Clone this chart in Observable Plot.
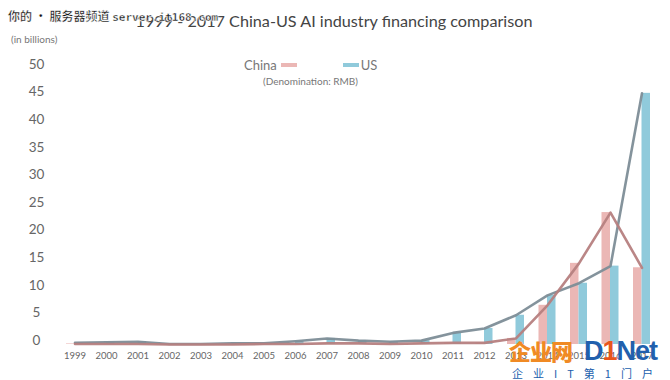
<!DOCTYPE html>
<html><head><meta charset="utf-8">
<script src="https://cdn.jsdelivr.net/npm/d3@7"></script>
<script src="https://cdn.jsdelivr.net/npm/@observablehq/plot@0.6"></script>
<style>
body{margin:0;background:#fff;}
#wrap{position:relative;width:670px;height:380px;overflow:hidden;font-family:Lato,"Open Sans",sans-serif;background:#fff;}
#chart{position:absolute;left:0;top:0;}
.abs{position:absolute;white-space:nowrap;line-height:1;}
</style></head><body>
<div id="wrap">
<div id="chart"></div>
<div class="abs" id="title" style="left:0;width:668px;text-align:center;top:13px;font-size:16.2px;color:#444;">1999 - 2017 China-US AI industry financing comparison</div>
<div class="abs" style="left:11px;top:34px;font-size:10px;color:#777;">(in billions)</div>
<div class="abs" id="legend" style="left:244px;top:59px;font-size:13px;color:#777;"></div>
<div class="abs" style="left:263px;top:76px;font-size:10px;color:#777;">(Denomination: RMB)</div>
<div class="abs" style="left:8px;top:10px;font-size:12px;font-weight:bold;color:#111;font-family:'Noto Sans CJK SC','DejaVu Sans Mono',monospace;-webkit-text-stroke:0.4px #fff;text-shadow:0 0 2px #fff,0 0 2px #fff;">你的 • 服务器频道 <span style="font-family:'DejaVu Sans Mono',monospace;font-size:11px;">server.it168.com</span></div>
<div class="abs" style="left:509px;top:339px;font-size:22px;font-weight:900;color:#f08a24;font-family:'Noto Sans CJK SC',sans-serif;letter-spacing:-1px;">企业网</div>
<div class="abs" style="left:584px;top:338px;font-size:27px;font-weight:bold;color:#2160ad;font-family:'Liberation Sans',Arial,sans-serif;letter-spacing:-1px;">D<span style="color:#e8551c;">1</span>Net</div>
<div class="abs" style="left:512px;top:368px;font-size:11px;color:#2160ad;font-family:'Noto Sans CJK SC',sans-serif;letter-spacing:10px;">企业IT第1门户</div>
</div>
<script>
const years = [1999,2000,2001,2002,2003,2004,2005,2006,2007,2008,2009,2010,2011,2012,2013,2014,2015,2016,2017];
const china = [0.1,0.1,0.1,0.0,0.0,0.0,0.1,0.1,0.2,0.2,0.1,0.2,0.3,0.3,1.1,7.1,14.7,23.9,13.9];
const us    = [0.3,0.4,0.5,0.1,0.1,0.2,0.2,0.6,1.1,0.7,0.5,0.7,2.1,2.9,5.3,8.9,11.1,14.2,45.5];
const yTicks = [0,5,10,15,20,25,30,35,40,45,50];
const seriesNames = ["China","US"];
const barColors = ["#ebb7b5","#90cadb"];
const lineColors = ["#b67f7f","#7d8d97"];

const rows = years.map((year,i)=>({year, china:china[i], us:us[i]}));
const half = 0.27;

const chart = Plot.plot({
  width:670, height:380,
  marginLeft:74.5, marginRight:28.5, marginTop:68, marginBottom:36,
  style:{fontFamily:"Lato, sans-serif", background:"transparent"},
  x:{domain:[1999,2017]},
  y:{domain:[0,50]},
  marks:[
    Plot.rectY(rows,{x1:d=>d.year-half, x2:d=>d.year, y:"china", fill:barColors[0]}),
    Plot.rectY(rows,{x1:d=>d.year, x2:d=>d.year+half, y:"us", fill:barColors[1]}),
    Plot.line(rows,{x:"year", y:"us", stroke:lineColors[1], strokeWidth:2.6, strokeOpacity:0.95}),
    Plot.line(rows,{x:"year", y:"china", stroke:lineColors[0], strokeWidth:2.6, strokeOpacity:0.95}),
    Plot.axisY({ticks:yTicks, tickSize:0, tickPadding:0, textAnchor:"middle", dx:-38.5, dy:-4, fontSize:13.5, color:"#666", label:null}),
    Plot.axisX({ticks:years, tickFormat:d=>String(d), tickSize:0, tickPadding:8, fontSize:9.5, color:"#666", label:null})
  ]
});
document.getElementById("chart").appendChild(chart);

const legend = document.getElementById("legend");
legend.innerHTML =
  `<span>${seriesNames[0]}</span><span style="display:inline-block;width:16px;height:4px;background:${barColors[0]};margin:0 0 3px 4px;"></span>` +
  `<span style="display:inline-block;width:16px;height:4px;background:${barColors[1]};margin:0 2px 3px 46px;"></span><span>${seriesNames[1]}</span>`;
</script>
</body></html>
